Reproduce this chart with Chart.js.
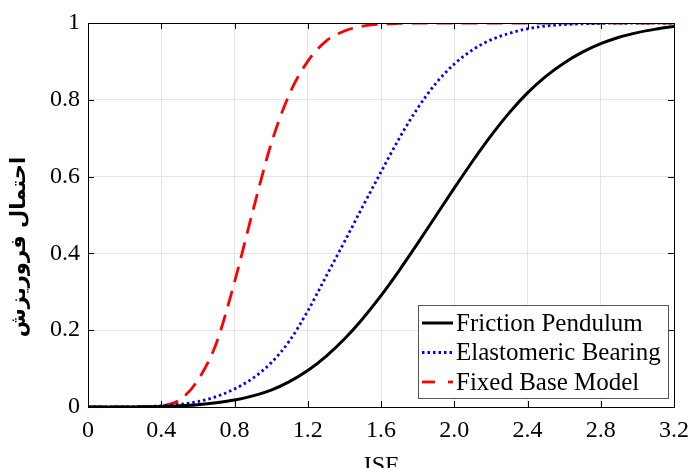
<!DOCTYPE html>
<html lang="en">
<head>
    <meta charset="UTF-8">
    <title>Fragility Curves</title>
    <script src="https://cdn.jsdelivr.net/npm/chart.js"></script>
    <style>
        html, body { margin: 0; padding: 0; background: #fff; }
        #wrap { width: 691px; height: 468px; }
    </style>
</head>
<body>
    <div id="wrap"><canvas id="fragChart" width="691" height="468"></canvas></div>

    <script>
        // ISF values (x) and collapse probability
        const isf = [0, 0.1, 0.2, 0.3, 0.4, 0.5, 0.6, 0.7, 0.8, 0.9, 1.0, 1.1, 1.2, 1.3, 1.4, 1.5, 1.6,
                     1.7, 1.8, 1.9, 2.0, 2.1, 2.2, 2.3, 2.4, 2.5, 2.6, 2.7, 2.8, 2.9, 3.0, 3.1, 3.2];
        const frictionPendulum = [0, 0, 0.0001, 0.0004, 0.0012, 0.003, 0.006, 0.011, 0.018, 0.029, 0.044, 0.066,
                                  0.095, 0.132, 0.177, 0.230, 0.290, 0.356, 0.426, 0.498, 0.570, 0.640, 0.706,
                                  0.766, 0.818, 0.861, 0.896, 0.924, 0.946, 0.963, 0.975, 0.984, 0.991];
        const elastomericBearing = [0, 0, 0.0002, 0.001, 0.003, 0.007, 0.014, 0.027, 0.047, 0.075, 0.115, 0.172,
                                    0.25, 0.34, 0.43, 0.522, 0.612, 0.70, 0.778, 0.843, 0.893, 0.930, 0.956,
                                    0.973, 0.985, 0.992, 0.996, 0.998, 0.999, 1, 1, 1, 1];
        const fixedBase = [0, 0, 0, 0.0005, 0.003, 0.018, 0.07, 0.165, 0.325, 0.51, 0.685, 0.815, 0.90, 0.953,
                           0.979, 0.992, 0.997, 0.999, 1, 1, 1, 1, 1, 1, 1, 1, 1, 1, 1, 1, 1, 1, 1];
        const seriesNames = ['Friction Pendulum', 'Elastomeric Bearing', 'Fixed Base Model'];
        const xTicks = [0, 0.4, 0.8, 1.2, 1.6, 2.0, 2.4, 2.8, 3.2];
        const yTicks = [0, 0.2, 0.4, 0.6, 0.8, 1];
        const xTitle = 'ISF';
        const yTitle = 'احتمال فروریزش';

        const serif = '"Liberation Serif", "Times New Roman", serif';

        function toPoints(ys) {
            return isf.map((x, i) => ({ x: x, y: ys[i] }));
        }

        // box + inward ticks on all four sides, titles and the legend
        const framePlugin = {
            id: 'frame',
            afterDatasetsDraw(chart) {
                const { ctx, chartArea: a, scales } = chart;
                ctx.save();
                ctx.strokeStyle = '#000';
                ctx.lineWidth = 1;
                ctx.beginPath();
                xTicks.forEach(v => {
                    const px = Math.round(scales.x.getPixelForValue(v)) + 0.5;
                    ctx.moveTo(px, a.bottom); ctx.lineTo(px, a.bottom - 6);
                    ctx.moveTo(px, a.top); ctx.lineTo(px, a.top + 6);
                });
                yTicks.forEach(v => {
                    const py = Math.round(scales.y.getPixelForValue(v)) + 0.5;
                    ctx.moveTo(a.left, py); ctx.lineTo(a.left + 6, py);
                    ctx.moveTo(a.right, py); ctx.lineTo(a.right - 6, py);
                });
                ctx.stroke();
                ctx.strokeRect(Math.round(a.left) + 0.5, Math.round(a.top) + 0.5,
                               Math.round(a.right - a.left), Math.round(a.bottom - a.top));
                ctx.restore();
            },
            afterDraw(chart) {
                const { ctx, chartArea: a } = chart;
                ctx.save();
                // x title (partly cut by the bottom edge, as in the figure)
                ctx.fillStyle = '#000';
                ctx.font = '24px ' + serif;
                ctx.textAlign = 'center';
                ctx.textBaseline = 'alphabetic';
                ctx.fillText(xTitle, (a.left + a.right) / 2, 472);
                // y title
                ctx.translate(20, 247);
                ctx.rotate(-Math.PI / 2);
                ctx.font = 'bold 21px "DejaVu Sans", sans-serif';
                ctx.direction = 'rtl';
                ctx.textAlign = 'center';
                ctx.textBaseline = 'middle';
                ctx.fillText(yTitle, 0, 0);
                ctx.restore();

                // legend in lower right
                const ds = chart.data.datasets;
                const bx = 418, by = 305, bw = 250, bh = 93;
                ctx.save();
                ctx.fillStyle = '#fff';
                ctx.fillRect(bx, by, bw, bh);
                ctx.strokeStyle = '#555';
                ctx.lineWidth = 1;
                ctx.strokeRect(bx + 0.5, by + 0.5, bw, bh);
                ctx.font = '25px ' + serif;
                ctx.textAlign = 'left';
                ctx.textBaseline = 'middle';
                ds.forEach((d, i) => {
                    const cy = by + 18 + i * 29.5;
                    ctx.strokeStyle = d.borderColor;
                    ctx.lineWidth = d.borderWidth;
                    ctx.setLineDash(d.legendDash || []);
                    ctx.beginPath();
                    ctx.moveTo(bx + 4, cy);
                    ctx.lineTo(bx + 35, cy);
                    ctx.stroke();
                    ctx.setLineDash([]);
                    ctx.fillStyle = '#000';
                    ctx.fillText(d.label, bx + 38, cy + 1);
                });
                ctx.restore();
            }
        };

        const ctx = document.getElementById('fragChart').getContext('2d');
        const chart = new Chart(ctx, {
            type: 'line',
            data: {
                datasets: [{
                    label: seriesNames[0],
                    data: toPoints(frictionPendulum),
                    borderColor: '#000000',
                    borderWidth: 3,
                    pointRadius: 0,
                    cubicInterpolationMode: 'monotone',
                    fill: false
                }, {
                    label: seriesNames[1],
                    data: toPoints(elastomericBearing),
                    borderColor: '#0000ff',
                    borderWidth: 2.8,
                    borderDash: [2.5, 3],
                    legendDash: [2.5, 3],
                    pointRadius: 0,
                    cubicInterpolationMode: 'monotone',
                    fill: false
                }, {
                    label: seriesNames[2],
                    data: toPoints(fixedBase),
                    borderColor: '#ff0000',
                    borderWidth: 2.8,
                    borderDash: [16, 9],
                    legendDash: [13, 13],
                    pointRadius: 0,
                    cubicInterpolationMode: 'monotone',
                    fill: false
                }]
            },
            options: {
                responsive: false,
                animation: false,
                layout: { padding: { top: 23, right: 17, left: 0, bottom: 0 } },
                plugins: {
                    legend: { display: false },
                    tooltip: { enabled: false }
                },
                scales: {
                    x: {
                        type: 'linear',
                        min: 0,
                        max: 3.2,
                        afterBuildTicks: s => { s.ticks = xTicks.map(v => ({ value: v })); },
                        afterFit: s => { s.height = 61; s.paddingLeft = 0; s.paddingRight = 0; },
                        ticks: {
                            color: '#000',
                            font: { family: serif, size: 24 },
                            padding: 9,
                            maxRotation: 0,
                            callback: v => (v === 0 ? '0' : v.toFixed(1))
                        },
                        grid: { color: '#e4e4e4', drawTicks: false },
                        border: { display: false }
                    },
                    y: {
                        type: 'linear',
                        min: 0,
                        max: 1,
                        afterBuildTicks: s => { s.ticks = yTicks.map(v => ({ value: v })); },
                        afterFit: s => { s.width = 88; s.paddingTop = 0; s.paddingBottom = 0; },
                        ticks: {
                            color: '#000',
                            font: { family: serif, size: 24 },
                            padding: 8,
                            callback: v => (v === 0 || v === 1 ? String(v) : v.toFixed(1))
                        },
                        grid: { color: '#e4e4e4', drawTicks: false },
                        border: { display: false }
                    }
                }
            },
            plugins: [framePlugin]
        });
    </script>
</body>
</html>
